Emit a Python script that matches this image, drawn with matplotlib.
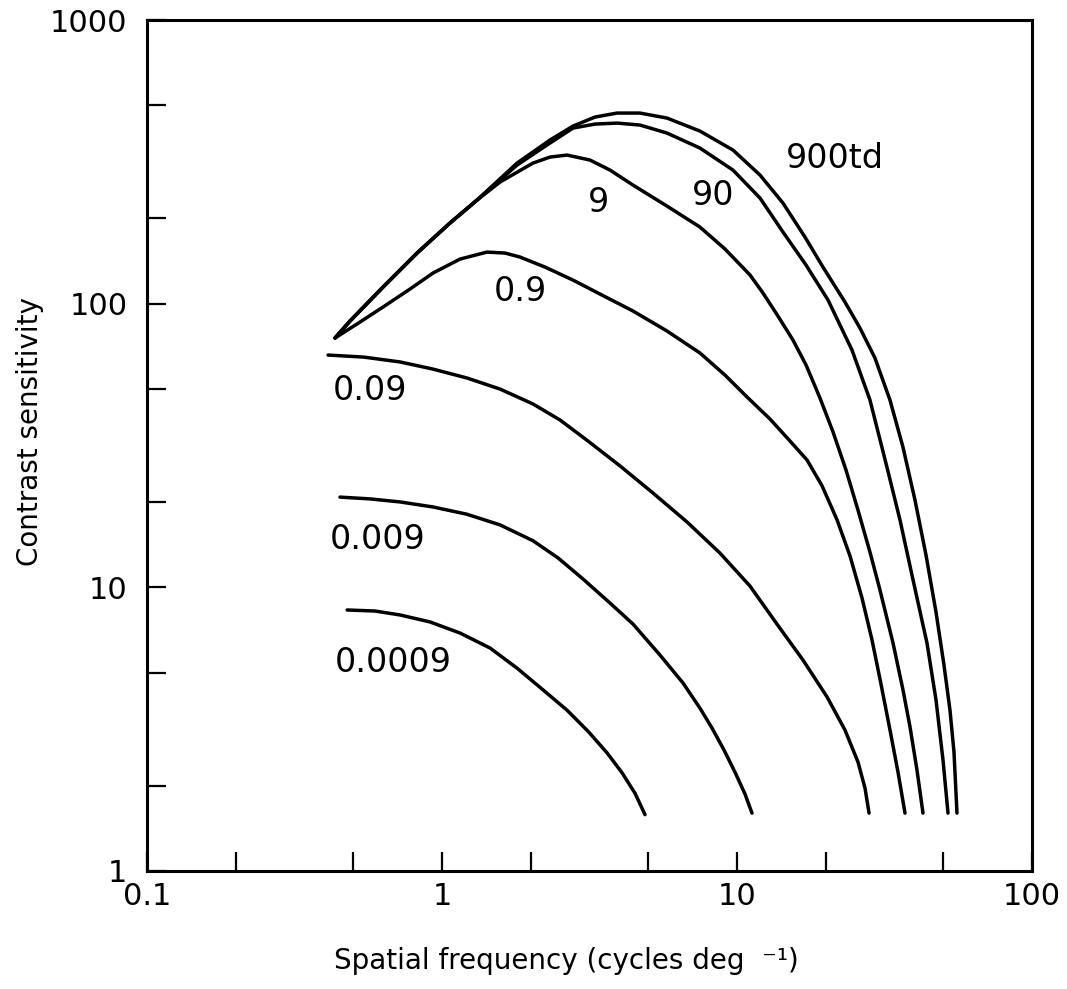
import matplotlib.pyplot as plt
from matplotlib.ticker import FixedLocator, NullFormatter

# contrast sensitivity vs spatial frequency, one curve per retinal illuminance (td)
sf_900 = [0.434, 0.488, 0.631, 0.823, 1.064, 1.314, 1.796, 2.323, 2.78, 3.302, 3.919, 4.69,
          5.79, 7.49, 9.692, 11.97, 14.32, 17.0, 19.56, 23.23, 26.12, 29.36, 33.01, 36.53,
          40.12, 43.72, 47.27, 50.31, 52.72, 54.39, 55.68]
cs_900 = [75.7, 86.9, 114.4, 150.8, 192.4, 231.8, 313, 377.4, 422.7, 454.8, 469.8, 469.8,
          451.1, 405.9, 347.9, 284, 226.2, 171.7, 134.6, 101.3, 82.0, 64.3, 45.7, 31.2,
          20.3, 13.0, 8.18, 5.32, 3.69, 2.63, 1.6]

sf_90 = [0.434, 0.488, 0.631, 0.823, 1.064, 1.314, 1.796, 2.323, 2.78, 3.302, 3.919, 4.69,
         5.79, 7.49, 9.692, 11.97, 14.32, 17.14, 20.35, 24.54, 28.24, 32.24, 35.69, 39.52,
         44.06, 47.27, 49.93, 51.91]
cs_90 = [75.7, 86.9, 114.4, 150.8, 192.4, 231.8, 308, 368.3, 415.9, 429.6, 433.1, 426.2,
         399.4, 353.6, 295.7, 235.6, 178.8, 136.8, 103, 68.6, 45.7, 26.5, 17.27, 10.61,
         6.36, 4.01, 2.46, 1.6]

sf_9 = [0.434, 0.488, 0.631, 0.823, 1.064, 1.314, 1.573, 2.034, 2.323, 2.653, 3.175, 3.712,
        4.442, 5.79, 7.49, 9.107, 11.07, 12.25, 13.77, 15.48, 17.14, 19.11, 21.16, 23.42,
        25.72, 28.24, 30.53, 33.8, 36.53, 38.59, 40.75, 42.7]
cs_9 = [75.7, 86.9, 114.4, 150.8, 192.4, 231.8, 268.4, 313, 328.7, 334.1, 320.8, 295.7,
        261.8, 220.8, 186.2, 155.8, 126.2, 109, 90.4, 74.4, 60.8, 46.5, 35.3, 25.9,
        18.7, 13.3, 9.78, 6.36, 4.35, 3.22, 2.27, 1.6]

sf_09 = [0.434, 0.527, 0.631, 0.779, 0.932, 1.151, 1.421, 1.635, 1.838, 2.234, 2.78, 3.487,
         4.442, 5.79, 7.49, 9.107, 10.81, 12.94, 15.12, 17.28, 19.42, 21.83, 24.16, 26.53,
         28.69, 30.77, 33.01, 35.14, 37.11]
cs_09 = [75.7, 86.1, 97.3, 112.6, 128.2, 143.6, 152, 150.8, 146, 134.6, 121.1, 107.2,
         94.2, 80.1, 67, 56, 46.9, 39.2, 32.8, 28.1, 22.8, 17.3, 12.9, 9.17,
         6.52, 4.56, 3.14, 2.23, 1.6]

sf_009 = [0.411, 0.544, 0.721, 0.932, 1.215, 1.573, 2.034, 2.512, 3.101, 4.012, 5.191,
          6.769, 8.758, 11.07, 13.66, 16.74, 20.19, 23.23, 25.72, 27.16, 28.03]
cs_009 = [65.9, 64.8, 62.3, 58.8, 54.7, 50, 44.3, 38.9, 33, 26.8, 21.5,
          17, 13.2, 10.1, 7.42, 5.54, 4.11, 3.14, 2.42, 1.96, 1.6]

sf_0009 = [0.451, 0.57, 0.721, 0.932, 1.215, 1.573, 2.034, 2.473, 3.006, 3.712, 4.442,
           5.483, 6.561, 7.49, 8.23, 9.035, 9.845, 10.64, 11.24]
cs_0009 = [20.8, 20.5, 20, 19.2, 18.1, 16.6, 14.6, 12.7, 10.7, 8.8, 7.42,
           5.77, 4.6, 3.75, 3.19, 2.67, 2.23, 1.87, 1.6]

sf_00009 = [0.477, 0.593, 0.721, 0.911, 1.151, 1.455, 1.796, 2.183, 2.653, 3.125, 3.625,
            4.076, 4.511, 4.877]
cs_00009 = [8.32, 8.25, 7.99, 7.55, 6.9, 6.11, 5.19, 4.38, 3.69, 3.11, 2.61,
            2.22, 1.88, 1.58]

# curve labels and where they sit
label_text = ['900td', '90', '9', '0.9', '0.09', '0.009', '0.0009']
label_x = [21.5, 8.3, 3.38, 1.85, 0.57, 0.603, 0.682]
label_y = [326, 241, 228, 110, 49.6, 14.7, 5.45]

x_ticks = [0.1, 1, 10, 100]
x_ticklabels = ['0.1', '1', '10', '100']
y_ticks = [1, 10, 100, 1000]
y_ticklabels = ['1', '10', '100', '1000']

plt.rcParams['font.family'] = ['DejaVu Sans']

fig = plt.figure(figsize=(10.67, 9.89), dpi=100)
ax = fig.add_axes([147 / 1067, 1 - 871 / 989, (1032 - 147) / 1067, (871 - 20) / 989])

curves = [(sf_900, cs_900), (sf_90, cs_90), (sf_9, cs_9), (sf_09, cs_09),
          (sf_009, cs_009), (sf_0009, cs_0009), (sf_00009, cs_00009)]
for sf, cs in curves:
    ax.plot(sf, cs, color='black', linewidth=2.5, solid_capstyle='round',
            solid_joinstyle='round')

for t, x, y in zip(label_text, label_x, label_y):
    ax.text(x, y, t, fontsize=24, ha='center', va='center')

ax.set_xscale('log')
ax.set_yscale('log')
ax.set_xlim(0.1, 100)
ax.set_ylim(1, 1000)

ax.xaxis.set_major_locator(FixedLocator(x_ticks))
ax.xaxis.set_minor_locator(FixedLocator([0.2, 0.5, 2, 5, 20, 50]))
ax.set_xticklabels(x_ticklabels)
ax.xaxis.set_minor_formatter(NullFormatter())
ax.yaxis.set_major_locator(FixedLocator(y_ticks))
ax.yaxis.set_minor_locator(FixedLocator([2, 5, 20, 50, 200, 500]))
ax.set_yticklabels(y_ticklabels)
ax.yaxis.set_minor_formatter(NullFormatter())

ax.tick_params(which='both', direction='in', length=14, width=1.6,
               top=False, right=False)
ax.tick_params(axis='x', which='major', pad=8, labelsize=22)
ax.tick_params(axis='y', which='major', pad=14, labelsize=22)

for s in ax.spines.values():
    s.set_linewidth(2.2)

fig.text(30 / 1067, 1 - 432 / 989, 'Contrast sensitivity', rotation=90,
         ha='center', va='center', fontsize=20)
fig.text(566 / 1067, 1 - 969 / 989, 'Spatial frequency (cycles deg  \u207b\u00b9)',
         ha='center', va='baseline', fontsize=20)

fig.savefig('out.png', dpi=100)
